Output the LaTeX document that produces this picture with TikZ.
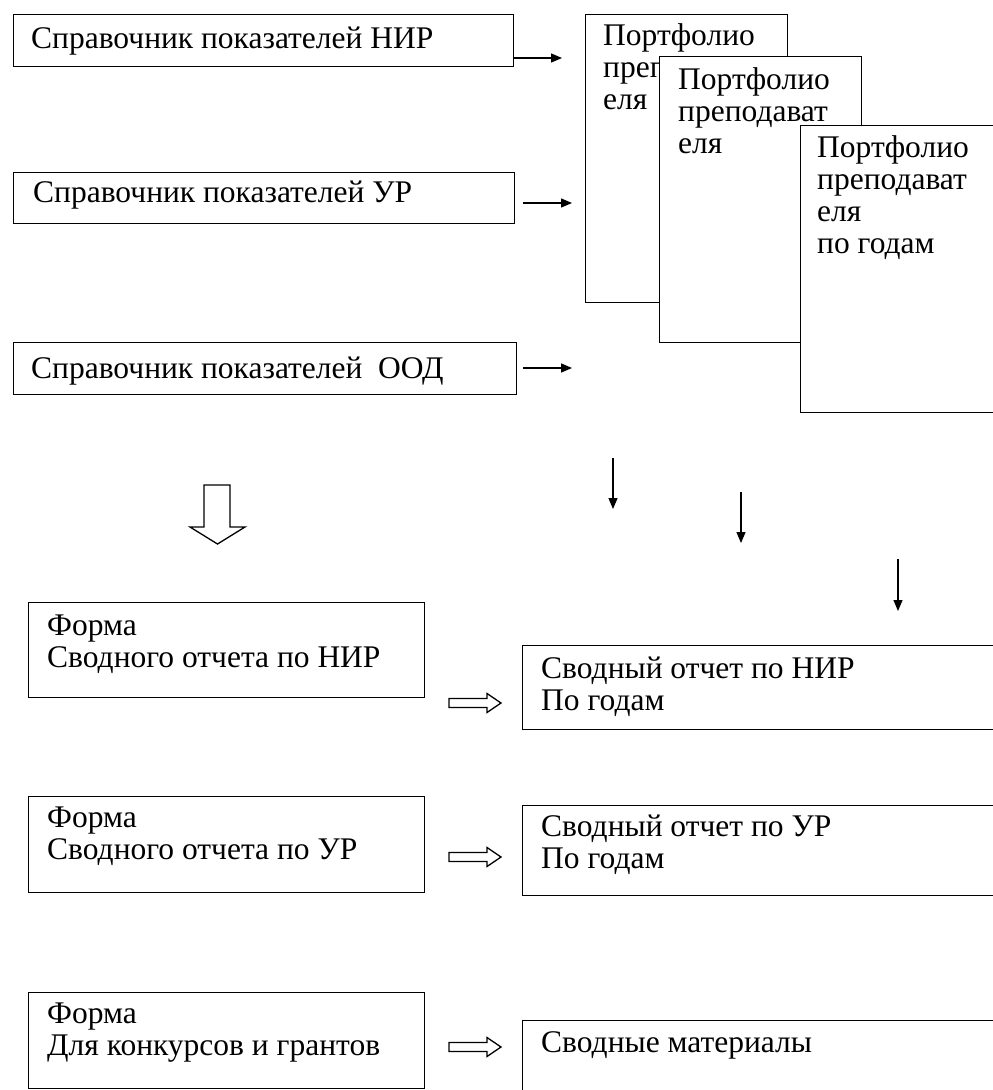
\documentclass[tikz,border=0pt]{standalone}
\usepackage{fontspec}
\setmainfont{Liberation Serif}
\usetikzlibrary{arrows.meta}
\tikzset{
  box/.style={draw, line width=1.3pt, fill=white, inner sep=0pt, anchor=north west},
  txt/.style={inner sep=0pt, anchor=base west, font=\fontsize{31.5}{32}\selectfont},
  thinarrow/.style={line width=1.3pt, -{Triangle[length=11pt,width=9pt]}},
  hollow/.style={draw, line width=1.3pt, fill=white, line join=miter}
}
\newcommand\ml[1]{\begin{tabular}[t]{@{}l@{}}#1\end{tabular}}
\begin{document}
\begin{tikzpicture}[x=1pt,y=-1pt]
\useasboundingbox (0,0) rectangle (993,1090);
% directories
\node[box, minimum width=500pt, minimum height=52pt] (nir) at (13,14) {};
\node[txt] (nirt) at (31,48) {Справочник показателей НИР};
\node[box, minimum width=501pt, minimum height=51pt] (ur) at (13,172) {};
\node[txt] (urt) at (33,202) {Справочник показателей УР};
\node[box, minimum width=503pt, minimum height=52pt] (ood) at (13,342) {};
\node[txt] (oodt) at (31,378) {Справочник показателей\ \ ООД};
% portfolios
\node[box, minimum width=202pt, minimum height=288pt] (p1) at (585,14) {};
\node[txt] (p1t) at (603,45) {\ml{Портфолио\\преподават\\еля}};
\node[box, minimum width=202pt, minimum height=286pt] (p2) at (659,56) {};
\node[txt] (p2t) at (678,89) {\ml{Портфолио\\преподават\\еля}};
\node[box, minimum width=215pt, minimum height=287pt] (p3) at (800,125) {};
\node[txt] (p3t) at (817,157) {\ml{Портфолио\\преподават\\еля\\по годам}};
% arrows to portfolios
\coordinate (a1e) at (562,58);
\coordinate (a2s) at (523,203); \coordinate (a2e) at (572,203);
\coordinate (a3s) at (523,368); \coordinate (a3e) at (572,368);
\draw[thinarrow] (nir.east |- a1e) -- (a1e);
\draw[thinarrow] (a2s) -- (a2e);
\draw[thinarrow] (a3s) -- (a3e);
% down arrows
\coordinate (d1s) at (613,458); \coordinate (d1e) at (613,509);
\coordinate (d2s) at (741,492); \coordinate (d2e) at (741,543);
\coordinate (d3s) at (898,559); \coordinate (d3e) at (898,611);
\draw[thinarrow] (d1s) -- (d1e);
\draw[thinarrow] (d2s) -- (d2e);
\draw[thinarrow] (d3s) -- (d3e);
% big hollow down arrow
\draw[hollow] (204,485) -- (230,485) -- (230,527) -- (245,527) -- (217.5,544) -- (190,527) -- (204,527) -- cycle;
% forms
\node[box, minimum width=396pt, minimum height=95pt] (f1) at (28,602) {};
\node[txt] (f1t) at (47,635) {\ml{Форма\\Сводного отчета по НИР}};
\node[box, minimum width=396pt, minimum height=96pt] (f2) at (28,796) {};
\node[txt] (f2t) at (47,827) {\ml{Форма\\Сводного отчета по УР}};
\node[box, minimum width=396pt, minimum height=96pt] (f3) at (28,992) {};
\node[txt] (f3t) at (47,1023) {\ml{Форма\\Для конкурсов и грантов}};
% summaries
\node[box, minimum width=490pt, minimum height=84pt] (s1) at (522,645) {};
\node[txt] (s1t) at (541,678) {\ml{Сводный отчет по НИР\\По годам}};
\node[box, minimum width=490pt, minimum height=90pt] (s2) at (522,805) {};
\node[txt] (s2t) at (541,836) {\ml{Сводный отчет по УР\\По годам}};
\node[box, minimum width=490pt, minimum height=90pt] (s3) at (522,1020) {};
\node[txt] (s3t) at (541,1052) {Сводные материалы};
% hollow right arrows
\foreach \cy in {703,857,1047}{
  \draw[hollow] (449,\cy-4.5) -- (487,\cy-4.5) -- (487,\cy-9.5) -- (501,\cy) -- (487,\cy+9.5) -- (487,\cy+4.5) -- (449,\cy+4.5) -- cycle;
}
\end{tikzpicture}
\end{document}
